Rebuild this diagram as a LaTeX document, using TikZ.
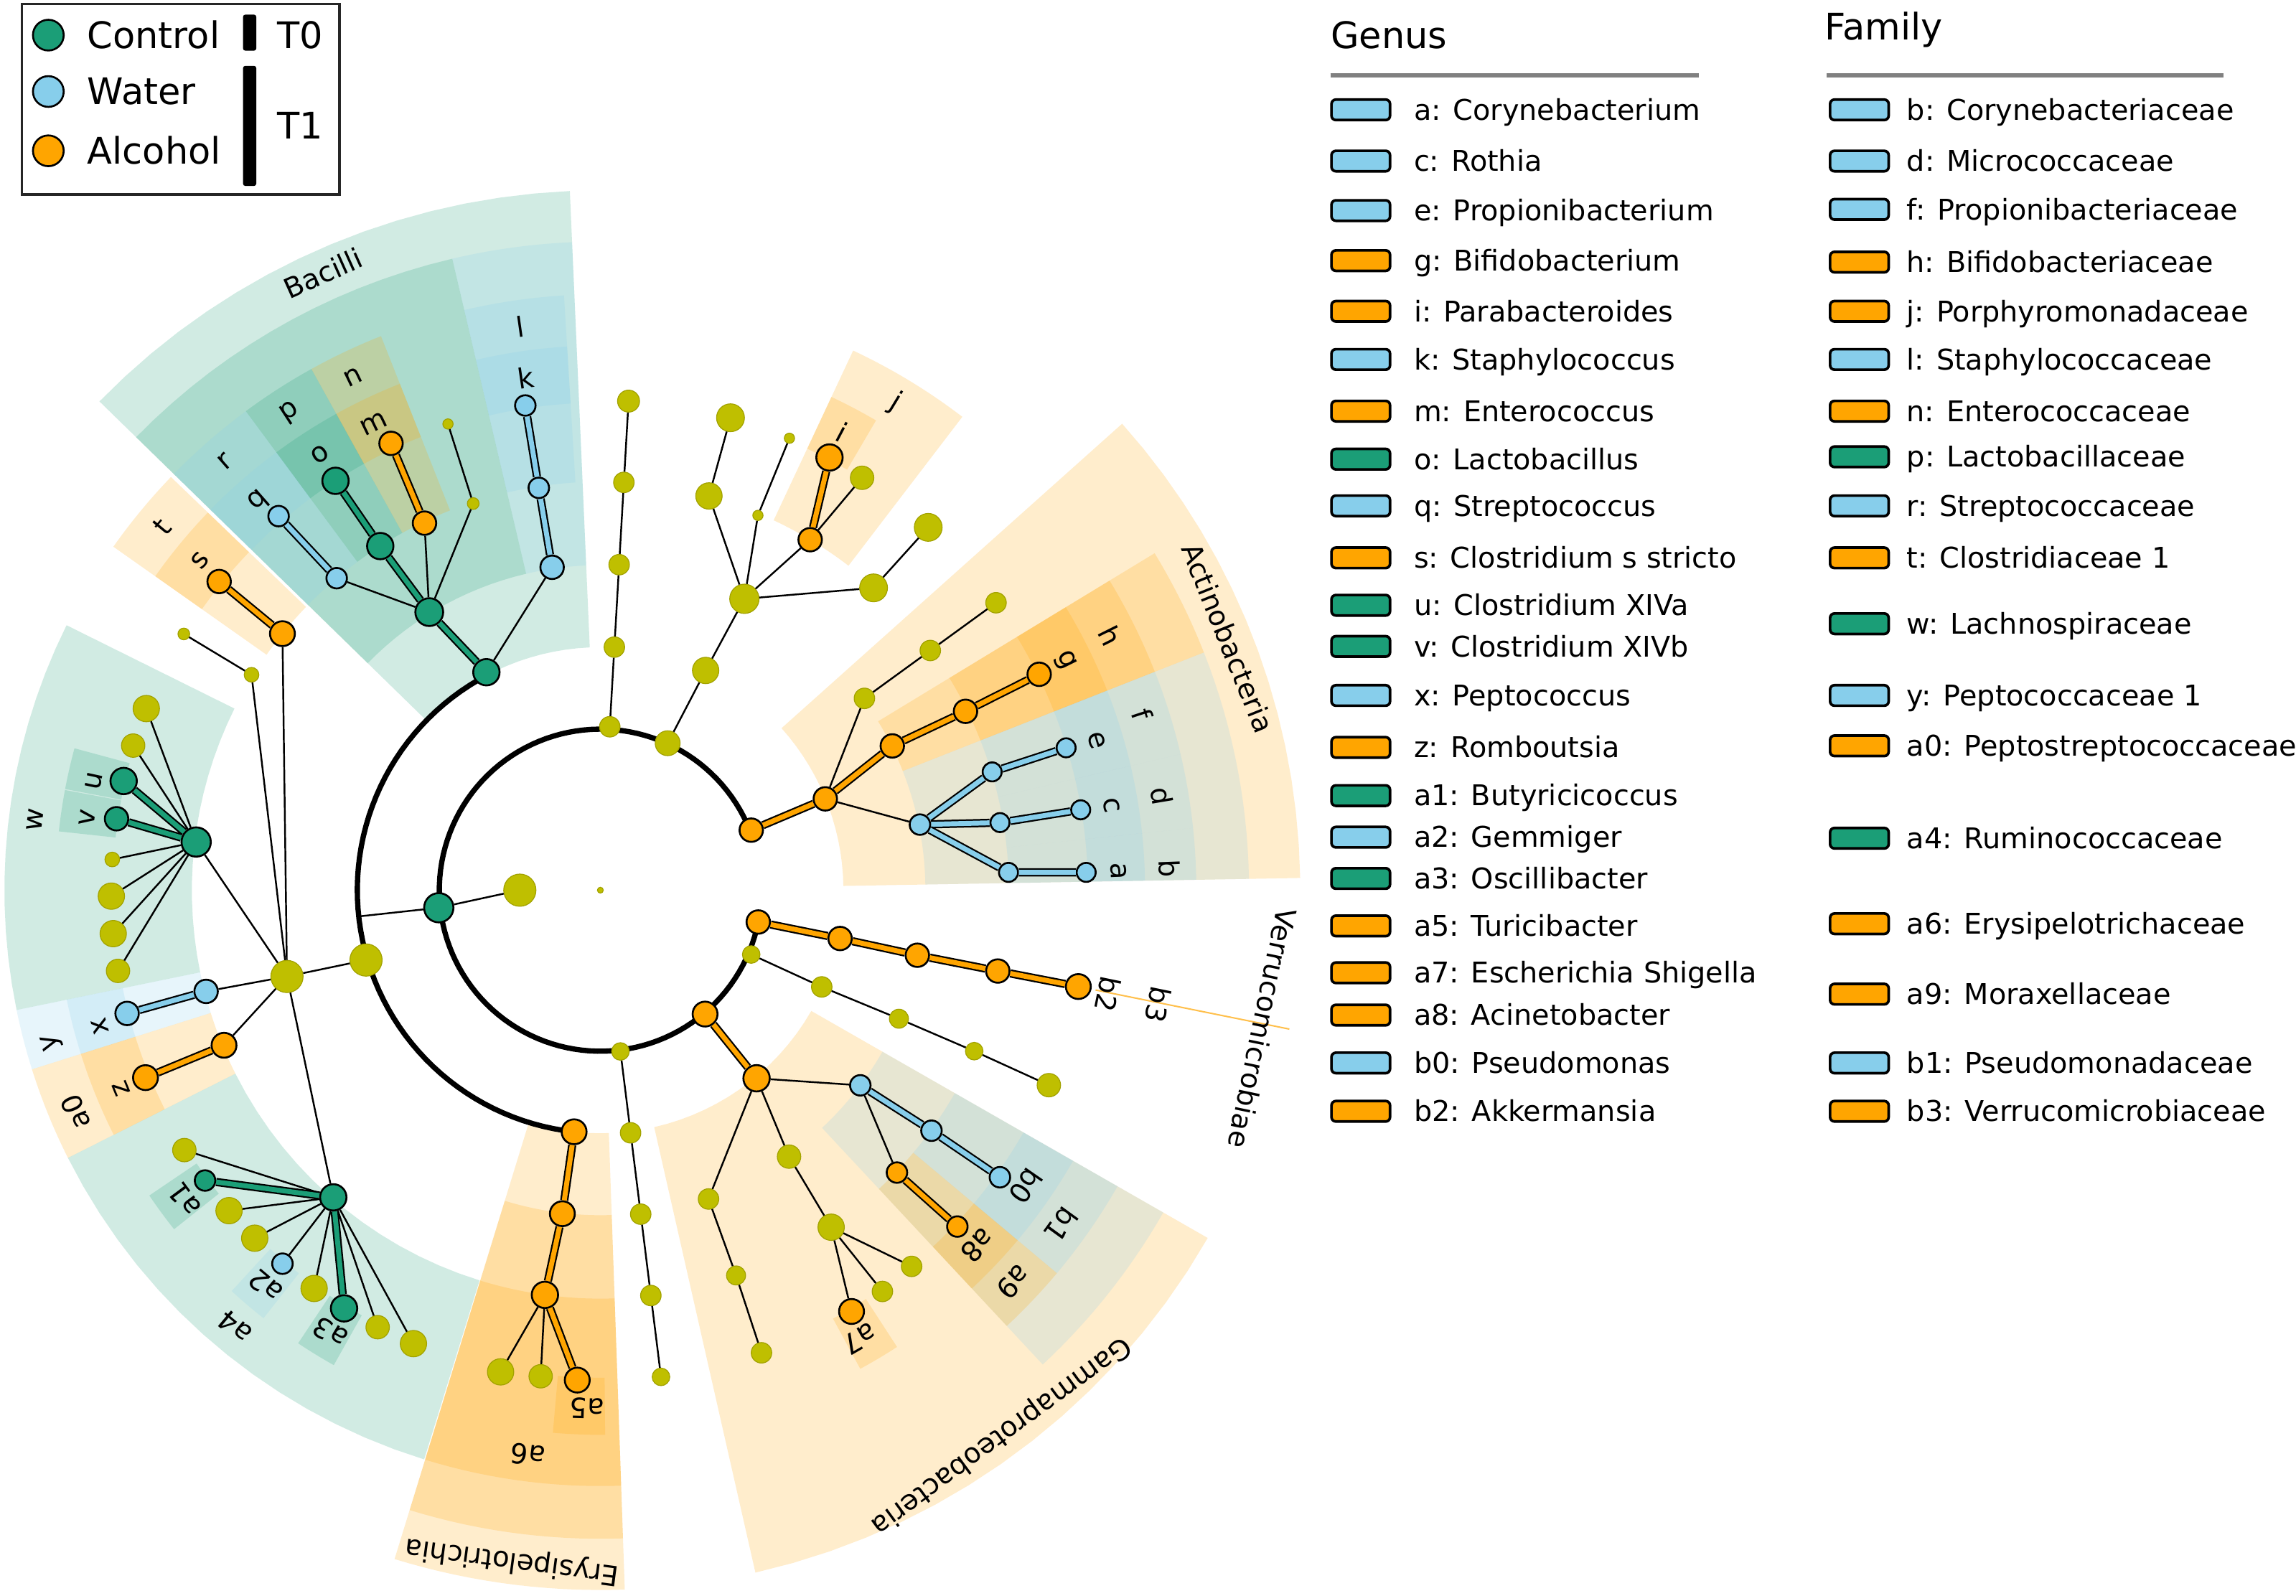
\documentclass[tikz,border=0pt]{standalone}
\usepackage{fontspec}
\setmainfont{DejaVu Sans}
\definecolor{ctrlgreen}{RGB}{27,158,119}
\definecolor{waterblue}{RGB}{135,206,235}
\definecolor{alcorange}{RGB}{255,165,0}
\definecolor{nsyellow}{RGB}{191,191,0}
\definecolor{rulegray}{RGB}{128,128,128}

% wedge behind a clade: colour, start angle, end angle, inner radius, outer radius
\newcommand{\cladesector}[5]{%
  \fill[#1, fill opacity=0.2] plot[domain=#2:#3, samples=16] (\x:#4) -- plot[domain=#3:#2, samples=16] (\x:#5) -- cycle;}

\tikzset{
  clade/.style={circle, inner sep=0pt, draw=black, line width=1.3pt},
  ctl/.style={clade, fill=ctrlgreen},
  wat/.style={clade, fill=waterblue},
  alc/.style={clade, fill=alcorange},
  nsig/.style={circle, inner sep=0pt, fill=nsyellow, draw=nsyellow!85!black, line width=0.6pt},
  plainedge/.style={line width=1.2pt, black},
  ctledge/.style={double=ctrlgreen, double distance=3.4pt, line width=1.1pt},
  watedge/.style={double=waterblue, double distance=3.4pt, line width=1.1pt},
  alcedge/.style={double=alcorange, double distance=3.4pt, line width=1.1pt},
  ring/.style={line width=3.6pt, black},
  cladetext/.style={inner sep=0pt, font=\fontsize{19}{19}\selectfont},
  swatch/.style={rectangle, rounded corners=3pt, draw=black, line width=1.8pt, minimum width=40pt, minimum height=14pt, inner sep=0pt},
  keytext/.style={anchor=base west, inner sep=0pt, font=\fontsize{19.5}{20}\selectfont},
  headtext/.style={anchor=base west, inner sep=0pt, font=\fontsize{25}{26}\selectfont}
}

\begin{document}
\begin{tikzpicture}[x=1pt, y=-1pt]
\useasboundingbox (0,0) rectangle (1568,1090);
\fill[white] (0,0) rectangle (1568,1090);

% key: groups and times
\node[draw=black!85, line width=1.6pt, anchor=north west, minimum width=217pt, minimum height=130pt, inner sep=0pt] (keyframe) at (14,2) {};
\node[ctl, minimum size=21pt] (keyctl) at (33,24) {};
\node[wat, minimum size=21pt] (keywat) at (33,62.5) {};
\node[alc, minimum size=21pt] (keyalc) at (33,103) {};
\node[headtext] (keyctltext) at (59.5,33) {Control};
\node[headtext] (keywattext) at (59.5,71.5) {Water};
\node[headtext] (keyalctext) at (59.5,112) {Alcohol};
\fill[rounded corners=1.5pt] (166,10) rectangle (175,34.6);
\fill[rounded corners=1.5pt] (166,45) rectangle (175,127);
\node[headtext, anchor=base] (keyt0) at (205,33) {T0};
\node[headtext, anchor=base] (keyt1) at (205,95) {T1};

\begin{scope}[shift={(410,608)}]
  % class wedges
  \cladesector{ctrlgreen}{224.3}{267.5}{166}{478}
  \cladesector{alcorange}{-41.8}{-1}{166}{478}
  \cladesector{alcorange}{29.8}{77.2}{166}{478}
  \cladesector{alcorange}{88}{107.1}{166}{478}
  % order wedges
  \cladesector{ctrlgreen}{224.3}{256.8}{222}{443}
  \cladesector{waterblue}{256.8}{267.5}{222}{443}
  \cladesector{alcorange}{-31.3}{-21.5}{222}{443}
  \cladesector{waterblue}{-21.5}{-1}{222}{443}
  \cladesector{waterblue}{29.8}{47}{222}{443}
  \cladesector{alcorange}{88}{107.1}{222}{443}
  % family wedges
  \foreach \col/\angA/\angB in {alcorange/215.2/223.9, waterblue/224.3/233.5, ctrlgreen/233.5/241, alcorange/241/248.4,
      waterblue/256.8/266.5, alcorange/-31.3/-21.5, waterblue/-21.5/-13.2, waterblue/-13.2/-6, waterblue/-6/-1,
      alcorange/-64.9/-52.6, ctrlgreen/168.4/206.4, waterblue/162.5/168.4, alcorange/153.3/162.5, ctrlgreen/107.2/153.3,
      alcorange/88/107.1, waterblue/29.8/40, alcorange/40/47}
    {\cladesector{\col}{\angA}{\angB}{279}{407}}
  % genus wedges
  \foreach \col/\angA/\angB in {alcorange/215.2/223.9, waterblue/224.3/233.5, ctrlgreen/233.5/241, alcorange/241/248.4,
      waterblue/256.8/266.5, alcorange/-31.3/-21.5, waterblue/-21.5/-13.2, waterblue/-13.2/-6, waterblue/-6/-1,
      alcorange/-64.9/-59.6, ctrlgreen/190.7/195.1, ctrlgreen/186.2/190.6, waterblue/162.5/168.4, alcorange/153.3/162.5,
      ctrlgreen/141.5/145.9, waterblue/128.2/132.6, ctrlgreen/119.3/123.7, alcorange/89.5/95, alcorange/57/61.5,
      alcorange/40/47, waterblue/29.8/40}
    {\cladesector{\col}{\angA}{\angB}{333}{372}}
  \draw[alcorange!70, line width=1pt] (11.4:345) -- (11.4:480);

  % phylum and class rings
  \draw[ring] plot[domain=11.4:338.3, samples=120] (\x:110);
  \draw[ring] plot[domain=96.2:242.4, samples=60] (\x:166);

  % root and Firmicutes
  \node[nsig, minimum size=4pt] (root) at (0,0) {};
  \node[nsig, minimum size=22pt] (kingdom) at (180:55) {};
  \node[ctl, minimum size=20pt] (firmicutes) at (173.8:111) {};
  \coordinate (firmring) at (173.8:166);

  % Bacilli
  \node[ctl, minimum size=18pt] (bacilli) at (242.4:168) {};
  \node[ctl, minimum size=19pt] (lactobacillales) at (238.4:223) {};
  \node[wat, minimum size=16pt] (bacillales) at (261.5:223) {};
  \node[wat, minimum size=14pt] (nl) at (261.3:278) {};
  \node[wat, minimum size=14pt] (nk) at (261.2:335) {};
  \node[wat, minimum size=14pt] (nr) at (229.8:279) {};
  \node[wat, minimum size=14pt] (nq) at (229.3:337) {};
  \node[ctl, minimum size=18pt] (np) at (237.4:279) {};
  \node[ctl, minimum size=18pt] (no) at (237.1:333) {};
  \node[alc, minimum size=16pt] (nn) at (244.4:278) {};
  \node[alc, minimum size=16pt] (nm) at (244.9:337) {};
  \node[nsig, minimum size=8pt] (lacfam) at (251.8:278) {};
  \node[nsig, minimum size=7pt] (lacgen) at (251.9:335) {};

  % Clostridia
  \node[nsig, minimum size=22pt] (clostridia) at (163.4:167) {};
  \node[nsig, minimum size=22pt] (clostridiales) at (164.6:222) {};
  \node[alc, minimum size=17pt] (nt) at (218.9:279) {};
  \node[alc, minimum size=16pt] (ns) at (219:335) {};
  \node[nsig, minimum size=10pt] (clofam) at (211.7:280) {};
  \node[nsig, minimum size=8pt] (clogen) at (211.6:334) {};
  \node[ctl, minimum size=20pt] (nw) at (186.8:278) {};
  \foreach \ang/\sty/\sz/\nm in {201.8/nsig/18/wgen1, 197.2/nsig/16/wgen2, 192.9/ctl/18/nu, 188.4/ctl/16/nv,
      183.6/nsig/10/wgen5, 179.3/nsig/18/wgen6, 174.9/nsig/18/wgen7, 170.5/nsig/16/wgen8}
    \node[\sty, minimum size=\sz pt] (\nm) at (\ang:334) {};
  \node[wat, minimum size=16pt] (ny) at (165.6:278) {};
  \node[wat, minimum size=16pt] (nx) at (165.4:334) {};
  \node[alc, minimum size=17pt] (na0) at (157.6:278) {};
  \node[alc, minimum size=17pt] (nz) at (157.6:336) {};
  \node[ctl, minimum size=18pt] (na4) at (131:278) {};
  \foreach \ang/\sty/\sz/\nm in {148/nsig/16/rgen1, 143.7/ctl/14/na1, 139.2/nsig/18/rgen3, 134.8/nsig/18/rgen4,
      130.4/wat/14/na2, 125.7/nsig/18/rgen6, 121.5/ctl/18/na3, 117/nsig/16/rgen8, 112.4/nsig/18/rgen9}
    \node[\sty, minimum size=\sz pt] (\nm) at (\ang:335) {};

  % Erysipelotrichia
  \node[alc, minimum size=17pt] (erysipelotrichia) at (96.2:166) {};
  \node[alc, minimum size=17pt] (erysipelotrichales) at (96.7:222.5) {};
  \node[alc, minimum size=18pt] (na6) at (97.8:279) {};
  \node[nsig, minimum size=18pt] (erygen1) at (101.7:336) {};
  \node[nsig, minimum size=16pt] (erygen2) at (97:334.5) {};
  \node[alc, minimum size=17pt] (na5) at (92.7:335) {};

  % unnamed phylum at the bottom
  \foreach \rad/\sz [count=\i] in {111/12, 167/14, 223/14, 279/14, 335/12}
    \node[nsig, minimum size=\sz pt] (bot\i) at (82.9:\rad) {};

  % Proteobacteria
  \node[alc, minimum size=17pt] (proteobacteria) at (49.8:110.8) {};
  \node[alc, minimum size=18pt] (gammaproteo) at (50.3:167) {};
  \node[wat, minimum size=14pt] (pseudomonadales) at (36.9:222) {};
  \node[wat, minimum size=14pt] (nb1) at (36:279.5) {};
  \node[wat, minimum size=14pt] (nb0) at (35.7:336) {};
  \node[alc, minimum size=14pt] (na9) at (43.6:279.7) {};
  \node[alc, minimum size=14pt] (na8) at (43.3:335) {};
  \node[nsig, minimum size=16pt] (enterobacteriales) at (54.7:223) {};
  \node[nsig, minimum size=18pt] (enterofam) at (55.6:279) {};
  \node[nsig, minimum size=14pt] (enterogen1) at (50.4:333.5) {};
  \node[nsig, minimum size=14pt] (enterogen2) at (54.9:335) {};
  \node[alc, minimum size=17pt] (na7) at (59.2:335) {};
  \node[nsig, minimum size=14pt] (gamord) at (70.7:223.5) {};
  \node[nsig, minimum size=13pt] (gamfam) at (70.6:279) {};
  \node[nsig, minimum size=14pt] (gamgen) at (70.8:334.6) {};

  % Verrucomicrobia
  \node[alc, minimum size=16pt] (verrucomicrobia) at (11.4:110) {};
  \node[alc, minimum size=16pt] (verruclass) at (11.4:167) {};
  \node[alc, minimum size=16pt] (verruorder) at (11.6:221) {};
  \node[alc, minimum size=16pt] (nb3) at (11.5:277) {};
  \node[alc, minimum size=17pt] (nb2) at (11.4:333) {};
  \foreach \ang/\rad/\sz [count=\i] in {23.1/112/12, 23.6/165/14, 23.3/222/13, 23.3/278/12, 23.5/334/16}
    \node[nsig, minimum size=\sz pt] (side\i) at (\ang:\rad) {};

  % Actinobacteria
  \node[alc, minimum size=16pt] (actinophylum) at (-21.7:110.9) {};
  \node[alc, minimum size=16pt] (actinoclass) at (-22.1:165.8) {};
  \node[alc, minimum size=16pt] (bifidobacteriales) at (-26.3:222.4) {};
  \node[alc, minimum size=16pt] (nh) at (-26.1:277.7) {};
  \node[alc, minimum size=16pt] (ng) at (-26.2:334) {};
  \foreach \rad [count=\i] in {222.9, 278.5, 334}
    \node[nsig, minimum size=14pt] (actiyel\i) at (-36:\rad) {};
  \node[wat, minimum size=14pt] (actinomycetales) at (-11.6:222.8) {};
  \node[wat, minimum size=13pt] (nf) at (-16.8:279.5) {};
  \node[wat, minimum size=13pt] (ne) at (-17:332.6) {};
  \node[wat, minimum size=13pt] (nd) at (-9.6:276.8) {};
  \node[wat, minimum size=13pt] (nc) at (-9.5:332.6) {};
  \node[wat, minimum size=13pt] (nb) at (-2.5:279) {};
  \node[wat, minimum size=13pt] (na) at (-2.1:332) {};

  % Bacteroidetes
  \foreach \rad/\sz [count=\i] in {111.8/14, 166.3/14, 222.7/14, 279/14, 334.6/15}
    \node[nsig, minimum size=\sz pt] (bactA\i) at (-86.7:\rad) {};
  \node[nsig, minimum size=17pt] (bactB1) at (-65.4:110.4) {};
  \node[nsig, minimum size=18pt] (bactB2) at (-64.4:166.4) {};
  \node[nsig, minimum size=20pt] (bactB3) at (-63.7:222) {};
  \node[nsig, minimum size=18pt] (bactfam1) at (-74.6:279.3) {};
  \node[nsig, minimum size=19pt] (bactgen1) at (-74.6:334.7) {};
  \node[nsig, minimum size=7pt] (bactfam2) at (-67.2:277.7) {};
  \node[nsig, minimum size=7pt] (bactgen2) at (-67.3:334.6) {};
  \node[alc, minimum size=16pt] (nj) at (-59.1:279) {};
  \node[alc, minimum size=18pt] (ni) at (-62.1:334.4) {};
  \node[nsig, minimum size=16pt] (bactgen3) at (-57.6:333.6) {};
  \node[nsig, minimum size=19pt] (bactfam4) at (-47.9:278.3) {};
  \node[nsig, minimum size=19pt] (bactgen4) at (-47.9:334) {};

  % branches
  \draw[plainedge] (firmicutes) -- (kingdom);
  \draw[plainedge] (firmicutes) -- (firmring);
  \draw[ctledge] (bacilli) -- (lactobacillales);
  \draw[plainedge] (bacilli) -- (bacillales);
  \draw[watedge] (bacillales) -- (nl);
  \draw[watedge] (nl) -- (nk);
  \draw[plainedge] (lactobacillales) -- (nr);
  \draw[watedge] (nr) -- (nq);
  \draw[ctledge] (lactobacillales) -- (np);
  \draw[ctledge] (np) -- (no);
  \draw[plainedge] (lactobacillales) -- (nn);
  \draw[alcedge] (nn) -- (nm);
  \draw[plainedge] (lactobacillales) -- (lacfam) -- (lacgen);

  \draw[plainedge] (clostridia) -- (clostridiales);
  \foreach \nm in {nt, clofam, nw, ny, na0, na4}
    \draw[plainedge] (clostridiales) -- (\nm);
  \draw[alcedge] (nt) -- (ns);
  \draw[plainedge] (clofam) -- (clogen);
  \foreach \nm/\eg in {wgen1/plainedge, wgen2/plainedge, nu/ctledge, nv/ctledge, wgen5/plainedge,
      wgen6/plainedge, wgen7/plainedge, wgen8/plainedge}
    \draw[\eg] (nw) -- (\nm);
  \draw[watedge] (ny) -- (nx);
  \draw[alcedge] (na0) -- (nz);
  \foreach \nm/\eg in {rgen1/plainedge, na1/ctledge, rgen3/plainedge, rgen4/plainedge, na2/plainedge,
      rgen6/plainedge, na3/ctledge, rgen8/plainedge, rgen9/plainedge}
    \draw[\eg] (na4) -- (\nm);

  \draw[alcedge] (erysipelotrichia) -- (erysipelotrichales);
  \draw[alcedge] (erysipelotrichales) -- (na6);
  \draw[alcedge] (na6) -- (na5);
  \draw[plainedge] (na6) -- (erygen1);
  \draw[plainedge] (na6) -- (erygen2);

  \draw[plainedge] (bot1) -- (bot2) -- (bot3) -- (bot4) -- (bot5);

  \draw[alcedge] (proteobacteria) -- (gammaproteo);
  \foreach \nm in {pseudomonadales, enterobacteriales, gamord}
    \draw[plainedge] (gammaproteo) -- (\nm);
  \draw[watedge] (pseudomonadales) -- (nb1);
  \draw[watedge] (nb1) -- (nb0);
  \draw[plainedge] (pseudomonadales) -- (na9);
  \draw[alcedge] (na9) -- (na8);
  \draw[plainedge] (enterobacteriales) -- (enterofam);
  \foreach \nm in {enterogen1, enterogen2, na7}
    \draw[plainedge] (enterofam) -- (\nm);
  \draw[plainedge] (gamord) -- (gamfam) -- (gamgen);

  \draw[alcedge] (verrucomicrobia) -- (verruclass);
  \draw[alcedge] (verruclass) -- (verruorder);
  \draw[alcedge] (verruorder) -- (nb3);
  \draw[alcedge] (nb3) -- (nb2);
  \draw[plainedge] (side1) -- (side2) -- (side3) -- (side4) -- (side5);

  \draw[alcedge] (actinophylum) -- (actinoclass);
  \draw[alcedge] (actinoclass) -- (bifidobacteriales);
  \draw[alcedge] (bifidobacteriales) -- (nh);
  \draw[alcedge] (nh) -- (ng);
  \draw[plainedge] (actinoclass) -- (actiyel1) -- (actiyel2) -- (actiyel3);
  \draw[plainedge] (actinoclass) -- (actinomycetales);
  \foreach \fam/\gen in {nf/ne, nd/nc, nb/na} {
    \draw[watedge] (actinomycetales) -- (\fam);
    \draw[watedge] (\fam) -- (\gen);
  }

  \draw[plainedge] (bactA1) -- (bactA2) -- (bactA3) -- (bactA4) -- (bactA5);
  \draw[plainedge] (bactB1) -- (bactB2) -- (bactB3);
  \foreach \nm in {bactfam1, bactfam2, nj, bactfam4}
    \draw[plainedge] (bactB3) -- (\nm);
  \draw[plainedge] (bactfam1) -- (bactgen1);
  \draw[plainedge] (bactfam2) -- (bactgen2);
  \draw[alcedge] (nj) -- (ni);
  \draw[plainedge] (nj) -- (bactgen3);
  \draw[plainedge] (bactfam4) -- (bactgen4);

  % letter labels
  \foreach \lb/\ang in {r/228.8, p/237, n/244.3, l/261.9, t/219.7, w/187.1, y/164.5, a0/157.1, a4/129.9,
      a6/97.3, b1/36, a9/43.5, h/-26.5, f/-18, d/-9.5, b/-2.2, j/-58.8, b3/11.6}
    \node[cladetext, rotate={-90-(\ang)}] (lab\lb) at (\ang:389) {\lb};
  \foreach \lb/\ang in {q/228.7, o/237.2, m/244.1, k/261.7, s/219.5, u/192.2, v/188, x/164.8, z/157.5,
      a1/143.4, a2/130.2, a3/121.4, a5/91.5, a7/60, b0/34.8, a8/43.3, g/-26.3, e/-16.8, c/-9.4, a/-2.1,
      i/-62.2, b2/11.6}
    \node[cladetext, rotate={-90-(\ang)}] (lab\lb) at (\ang:354) {\lb};
  \foreach \lb/\ang in {Bacilli/245.8, Actinobacteria/-21.9, Gammaproteobacteria/53.7,
      Erysipelotrichia/97.5, Verrucomicrobiae/11.8}
    \node[cladetext, rotate={-90-(\ang)}] (lab\lb) at (\ang:462) {\lb};
\end{scope}

% key: genus and family letters
\node[headtext] (genushead) at (908.6,33) {Genus};
\node[headtext] (familyhead) at (1246,27) {Family};
\draw[rulegray, line width=3pt] (908.6,51.6) -- (1160,51.6);
\draw[rulegray, line width=3pt] (1247.6,51.6) -- (1518.6,51.6);
\foreach \ly/\col/\txt [count=\i] in {
    75/waterblue/{a: Corynebacterium}, 110/waterblue/{c: Rothia}, 143.8/waterblue/{e: Propionibacterium},
    178/alcorange/{g: Bifidobacterium}, 212.6/alcorange/{i: Parabacteroides}, 245.5/waterblue/{k: Staphylococcus},
    280.8/alcorange/{m: Enterococcus}, 313.6/ctrlgreen/{o: Lactobacillus}, 345.5/waterblue/{q: Streptococcus},
    381/alcorange/{s: Clostridium s stricto}, 413.4/ctrlgreen/{u: Clostridium XIVa}, 441.5/ctrlgreen/{v: Clostridium XIVb},
    475/waterblue/{x: Peptococcus}, 510.5/alcorange/{z: Romboutsia}, 543.4/ctrlgreen/{a1: Butyricicoccus},
    571.8/waterblue/{a2: Gemmiger}, 600/ctrlgreen/{a3: Oscillibacter}, 632.4/alcorange/{a5: Turicibacter},
    664.4/alcorange/{a7: Escherichia Shigella}, 693.3/alcorange/{a8: Acinetobacter}, 726/waterblue/{b0: Pseudomonas},
    759/alcorange/{b2: Akkermansia}} {
  \node[swatch, fill=\col] (genkey\i) at (929.3,\ly) {};
  \node[keytext] (genname\i) at (965.4,\ly+7) {\txt};
}
\foreach \ly/\col/\txt [count=\i] in {
    75/waterblue/{b: Corynebacteriaceae}, 110/waterblue/{d: Micrococcaceae}, 143/waterblue/{f: Propionibacteriaceae},
    179/alcorange/{h: Bifidobacteriaceae}, 212.6/alcorange/{j: Porphyromonadaceae}, 245.5/waterblue/{l: Staphylococcaceae},
    280.8/alcorange/{n: Enterococcaceae}, 312/ctrlgreen/{p: Lactobacillaceae}, 345.5/waterblue/{r: Streptococcaceae},
    381/alcorange/{t: Clostridiaceae 1}, 426/ctrlgreen/{w: Lachnospiraceae}, 475/waterblue/{y: Peptococcaceae 1},
    509.4/alcorange/{a0: Peptostreptococcaceae}, 572.5/ctrlgreen/{a4: Ruminococcaceae}, 630.9/alcorange/{a6: Erysipelotrichaceae},
    679/alcorange/{a9: Moraxellaceae}, 726/waterblue/{b1: Pseudomonadaceae}, 759/alcorange/{b3: Verrucomicrobiaceae}} {
  \node[swatch, fill=\col] (famkey\i) at (1269.8,\ly) {};
  \node[keytext] (famname\i) at (1302,\ly+7) {\txt};
}
\end{tikzpicture}
\end{document}
